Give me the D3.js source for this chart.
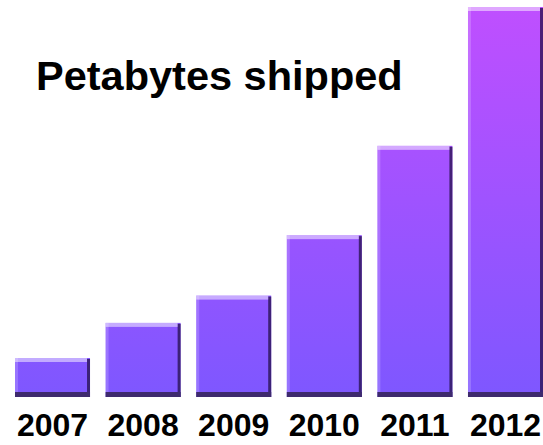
<!DOCTYPE html>
<html>
<head>
<meta charset="utf-8">
<script src="https://cdn.jsdelivr.net/npm/d3@7"></script>
<style>
html,body{margin:0;padding:0;background:#fff;}
svg{display:block;}
</style>
</head>
<body>
<svg id="chart" width="543" height="445"></svg>
<script>
const years = ["2007", "2008", "2009", "2010", "2011", "2012"];
const petabytes = [10, 19, 26, 41.5, 64.4, 100];
const titleText = "Petabytes shipped";

const W = 543, H = 445;
const svg = d3.select("#chart");

const x = d3.scaleBand().domain(years).range([15, 543]).paddingInner(0.172).paddingOuter(0);
const y = d3.scaleLinear().domain([0, 100]).range([397, 7]);

const defs = svg.append("defs");
const grad = defs.append("linearGradient")
  .attr("id", "barGrad")
  .attr("gradientUnits", "userSpaceOnUse")
  .attr("x1", 0).attr("y1", y(100)).attr("x2", 0).attr("y2", y(0));
grad.append("stop").attr("offset", "0%").attr("stop-color", "#bf4fff");
grad.append("stop").attr("offset", "100%").attr("stop-color", "#7e57ff");

const data = years.map((yr, i) => ({year: yr, value: petabytes[i]}));
const bw = x.bandwidth();

const g = svg.append("g").selectAll("g.bar").data(data).join("g").attr("class", "bar");

// main body
g.append("rect")
  .attr("x", d => x(d.year))
  .attr("y", d => y(d.value))
  .attr("width", bw)
  .attr("height", d => y(0) - y(d.value))
  .attr("fill", "url(#barGrad)");

// left highlight
g.append("rect")
  .attr("x", d => x(d.year))
  .attr("y", d => y(d.value))
  .attr("width", 3)
  .attr("height", d => y(0) - y(d.value))
  .attr("fill", "#ffffff").attr("fill-opacity", 0.18);

// right shadow
g.append("rect")
  .attr("x", d => x(d.year) + bw - 3)
  .attr("y", d => y(d.value) + 1)
  .attr("width", 3)
  .attr("height", d => y(0) - y(d.value) - 1)
  .attr("fill", "#24104a").attr("fill-opacity", 0.75);

// top highlight
g.append("rect")
  .attr("x", d => x(d.year))
  .attr("y", d => y(d.value))
  .attr("width", bw - 3)
  .attr("height", 4)
  .attr("fill", "#ffffff").attr("fill-opacity", 0.5);

// bottom shadow
g.append("rect")
  .attr("x", d => x(d.year))
  .attr("y", y(0) - 5)
  .attr("width", bw)
  .attr("height", 5)
  .attr("fill", "#3e2a6e");

// year labels
svg.append("g").selectAll("text").data(years).join("text")
  .attr("x", d => x(d) + bw / 2)
  .attr("y", 436)
  .attr("text-anchor", "middle")
  .attr("font-family", "Liberation Sans, Arial, sans-serif")
  .attr("font-weight", "bold")
  .attr("font-size", 32)
  .attr("fill", "#000")
  .text(d => d);

// title
svg.append("text")
  .attr("x", 36)
  .attr("y", 90)
  .attr("font-family", "Liberation Sans, Arial, sans-serif")
  .attr("font-weight", "bold")
  .attr("font-size", 41.5)
  .attr("fill", "#000")
  .text(titleText);
</script>
</body>
</html>
